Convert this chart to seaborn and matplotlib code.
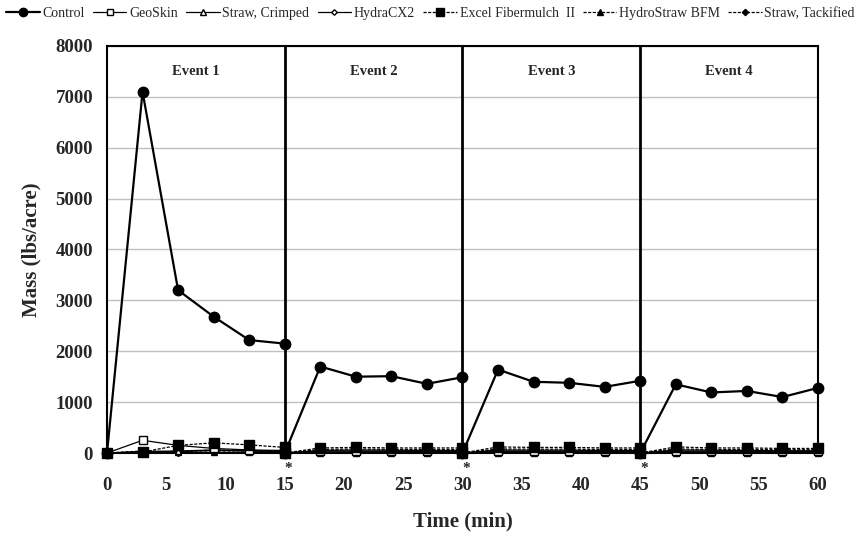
import numpy as np
import pandas as pd
import matplotlib
matplotlib.use("Agg")
import matplotlib.pyplot as plt
import seaborn as sns
from matplotlib.lines import Line2D

# ---- data ----
event_times = [[0, 3, 6, 9, 12, 15], [15, 18, 21, 24, 27, 30],
               [30, 33, 36, 39, 42, 45], [45, 48, 51, 54, 57, 60]]
treatments = ["Control", "GeoSkin", "Straw, Crimped", "HydraCX2",
              "Excel Fibermulch  II", "HydroStraw BFM", "Straw, Tackified"]
control = [[0, 7100, 3200, 2680, 2220, 2150], [0, 1700, 1500, 1510, 1360, 1490],
           [0, 1640, 1400, 1380, 1300, 1420], [0, 1350, 1190, 1220, 1100, 1280]]
geoskin = [[0, 250, 150, 90, 60, 50], [0, 40, 40, 35, 30, 30],
           [0, 40, 35, 35, 30, 30], [0, 40, 35, 35, 30, 30]]
straw_crimped = [[0, 30, 40, 60, 40, 30], [0, 20, 25, 25, 20, 20],
                 [0, 25, 25, 20, 20, 20], [0, 25, 20, 20, 20, 20]]
hydracx2 = [[0, 20, 30, 50, 40, 30], [0, 50, 60, 55, 50, 50],
            [0, 60, 55, 55, 50, 50], [0, 60, 55, 50, 45, 45]]
excel = [[0, 20, 150, 200, 160, 110], [0, 100, 110, 100, 100, 100],
         [0, 120, 110, 110, 100, 100], [0, 120, 100, 100, 90, 90]]
hydrostraw = [[0, 10, 15, 20, 15, 15], [0, 10, 10, 10, 10, 10],
              [0, 10, 10, 10, 10, 10], [0, 10, 10, 10, 10, 10]]
straw_tack = [[0, 40, 20, 60, 50, 40], [0, 70, 80, 70, 70, 70],
              [0, 80, 75, 75, 70, 70], [0, 80, 70, 70, 65, 65]]
series = [control, geoskin, straw_crimped, hydracx2, excel, hydrostraw, straw_tack]
event_labels = ["Event 1", "Event 2", "Event 3", "Event 4"]
dividers = [15, 30, 45]
xticks = list(range(0, 61, 5))
yticks = list(range(0, 8001, 1000))

rows = []
for name, vals in zip(treatments, series):
    for e, (ts, vs) in enumerate(zip(event_times, vals)):
        for t, v in zip(ts, vs):
            rows.append({"treatment": name, "event": e, "time": t, "mass": v})
df = pd.DataFrame(rows)

# ---- styles ----
dash = (0, (2.5, 1.2))
styles = {
    "Control": dict(marker="o", ls="-", lw=1.6, ms=7.5, mfc="black", z=10),
    "GeoSkin": dict(marker="s", ls="-", lw=0.9, ms=6, mfc="white", z=5),
    "Straw, Crimped": dict(marker="^", ls="-", lw=0.9, ms=5, mfc="white", z=4),
    "HydraCX2": dict(marker="D", ls="-", lw=0.9, ms=3.5, mfc="white", z=4),
    "Excel Fibermulch  II": dict(marker="s", ls=dash, lw=0.9, ms=6.5, mfc="black", z=6),
    "HydroStraw BFM": dict(marker="^", ls=dash, lw=0.9, ms=5, mfc="black", z=4),
    "Straw, Tackified": dict(marker="D", ls=dash, lw=0.9, ms=4, mfc="black", z=4),
}

sns.set_theme(style="white")
plt.rcParams["font.family"] = ["Liberation Serif", "DejaVu Serif"]

fig = plt.figure(figsize=(8.56, 5.46), dpi=100)
ax = fig.add_axes([0.125, 0.1703, 0.8306, 0.7455])

for name in treatments[::-1]:
    st = styles[name]
    sub = df[df.treatment == name]
    sns.lineplot(data=sub, x="time", y="mass", units="event", estimator=None,
                 sort=False, ax=ax, color="black", marker=st["marker"],
                 linestyle=st["ls"], linewidth=st["lw"], markersize=st["ms"],
                 markerfacecolor=st["mfc"], markeredgecolor="black",
                 markeredgewidth=1.0, zorder=st["z"], legend=False, clip_on=False)

handles = []
for name in treatments:
    st = styles[name]
    handles.append(Line2D([], [], color="black", marker=st["marker"], linestyle=st["ls"],
                          linewidth=st["lw"], markersize=st["ms"] * 0.8,
                          markerfacecolor=st["mfc"], markeredgecolor="black",
                          markeredgewidth=1.0, label=name))

for d in dividers:
    ax.axvline(d, color="black", lw=2.0, zorder=12)
    ax.text(d + 0.3, -0.037, "*", transform=ax.get_xaxis_transform(), ha="center",
            va="center", fontsize=11, fontweight="bold")

for i, lab in enumerate(event_labels):
    ax.text(7.5 + 15 * i, 7500, lab, ha="center", va="center", fontsize=10.5,
            fontweight="bold")

ax.set_xlim(0, 60)
ax.set_ylim(0, 8000)
ax.set_xticks(xticks)
ax.set_yticks(yticks)
ax.yaxis.grid(True, color="#c0c0c0", lw=1.0)
ax.xaxis.grid(False)
ax.set_axisbelow(True)
for sp in ax.spines.values():
    sp.set_color("black")
    sp.set_linewidth(1.5)
ax.tick_params(axis="both", direction="out", length=4, width=1, color="black",
               labelsize=13.5, pad=6)
ax.tick_params(axis="x", pad=13)
for lbl in ax.get_xticklabels() + ax.get_yticklabels():
    lbl.set_fontweight("bold")
ax.set_xlabel("Time (min)", fontsize=15, fontweight="bold", labelpad=13)
ax.set_ylabel("Mass (lbs/acre)", fontsize=15, fontweight="bold", labelpad=10)

fig.legend(handles=handles, loc="center", bbox_to_anchor=(0.503, 0.975), ncol=7,
           frameon=False, fontsize=10, handlelength=2.4, handletextpad=0.2,
           columnspacing=0.6, borderaxespad=0, borderpad=0)

fig.savefig("out.png", dpi=100)
